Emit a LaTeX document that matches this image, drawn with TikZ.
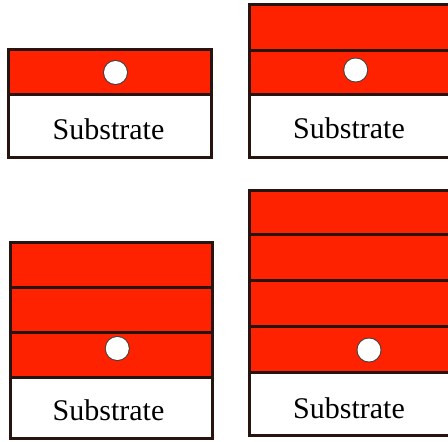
\documentclass[tikz,border=0pt]{standalone}
\usepackage{fontspec}
\setmainfont{Liberation Serif}
\definecolor{layerred}{RGB}{255,34,0}
\definecolor{edgedark}{RGB}{40,20,15}
\tikzset{
  frame/.style={fill=edgedark},
  redfill/.style={fill=layerred},
  whitefill/.style={fill=white},
  holering/.style={circle, fill=black!75, minimum size=25pt, inner sep=0pt},
  holedot/.style={circle, fill=white, minimum size=23pt, inner sep=0pt},
  subtext/.style={anchor=base, font=\fontsize{30}{32}\selectfont, inner sep=0pt},
}
\begin{document}
\begin{tikzpicture}[x=1pt, y=1pt]
\useasboundingbox (0,-442) rectangle (448,0);
\fill[white] (0,-442) rectangle (448,0);
% Panel 1
\fill[frame] (6.5,-47.5) rectangle (212.5,-158.5);
\fill[redfill] (9.5,-50.5) rectangle (209.5,-92.5);
\fill[whitefill] (9.5,-95.5) rectangle (209.5,-155.5);
\node[holering] (r1) at (115.5,-72.5) {};
\node[holedot] (c1) at (r1) {};
\node[subtext] (t1) at (108.5,-139) {Substrate};
% Panel 2
\fill[frame] (247.5,-2.5) rectangle (448,-158.5);
\fill[redfill] (250.5,-5.5) rectangle (448,-48.5);
\fill[redfill] (250.5,-51.5) rectangle (448,-92.5);
\fill[whitefill] (250.5,-95.5) rectangle (448,-155.5);
\fill[black!35] (444.6,-95.5) rectangle (445.4,-155.5);
\fill[whitefill] (445.4,-95.5) rectangle (448,-155.5);
\node[holering] (r2) at (355.7,-70) {};
\node[holedot] (c2) at (r2) {};
\node[subtext] (t2) at (349,-138) {Substrate};
% Panel 3
\fill[frame] (8.5,-240.5) rectangle (213.5,-439.5);
\fill[redfill] (11.5,-243.5) rectangle (210.5,-285.5);
\fill[redfill] (11.5,-288.5) rectangle (210.5,-330.5);
\fill[redfill] (11.5,-333.5) rectangle (210.5,-375.5);
\fill[whitefill] (11.5,-378.5) rectangle (210.5,-436.5);
\node[holering] (r3) at (117.3,-348.5) {};
\node[holedot] (c3) at (r3) {};
\node[subtext] (t3) at (108.5,-420) {Substrate};
% Panel 4
\fill[frame] (247.5,-188.5) rectangle (448,-436.5);
\fill[redfill] (250.5,-191.5) rectangle (448,-232.5);
\fill[redfill] (250.5,-235.5) rectangle (448,-278.5);
\fill[redfill] (250.5,-281.5) rectangle (448,-324.5);
\fill[redfill] (250.5,-327.5) rectangle (448,-370.5);
\fill[whitefill] (250.5,-373.5) rectangle (448,-433.5);
\fill[black!35] (444.6,-373.5) rectangle (445.4,-433.5);
\fill[whitefill] (445.4,-373.5) rectangle (448,-433.5);
\node[holering] (r4) at (369,-350) {};
\node[holedot] (c4) at (r4) {};
\node[subtext] (t4) at (349,-418) {Substrate};
\end{tikzpicture}
\end{document}
